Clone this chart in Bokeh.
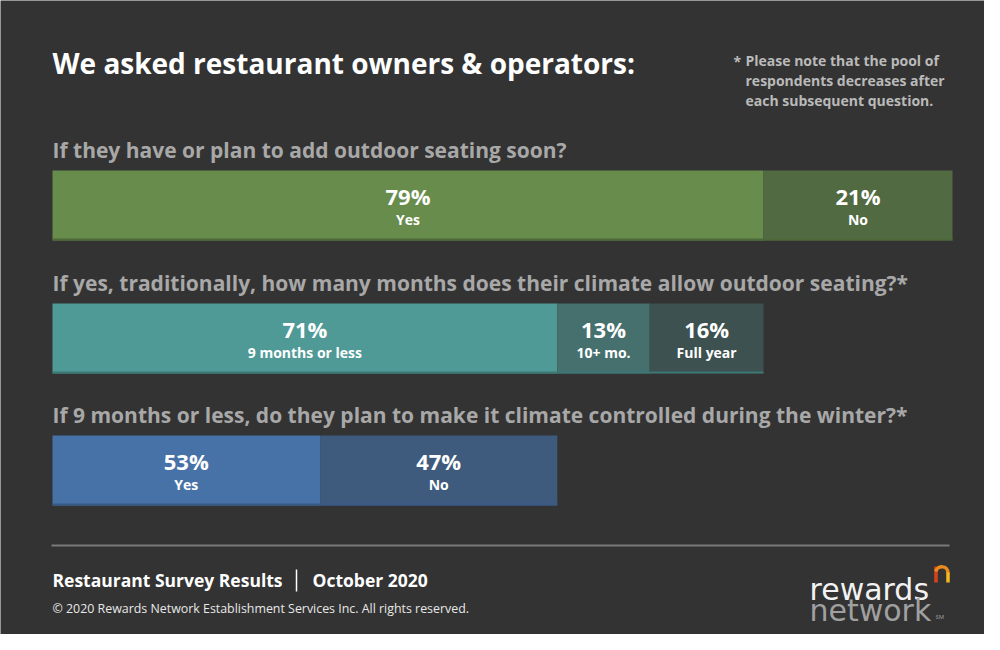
from bokeh.plotting import figure
from bokeh.models import Range1d, ColumnDataSource
from bokeh.embed import file_html
from bokeh.resources import INLINE
from bokeh.core.properties import value

# ---------------- data ----------------
title_text = "We asked restaurant owners & operators:"
note_lines = ["Please note that the pool of", "respondents decreases after", "each subsequent question."]
questions = [
    "If they have or plan to add outdoor seating soon?",
    "If yes, traditionally, how many months does their climate allow outdoor seating?*",
    "If 9 months or less, do they plan to make it climate controlled during the winter?*",
]
q1_labels = ["Yes", "No"]
q1_values = [79, 21]
q2_labels = ["9 months or less", "10+ mo.", "Full year"]
q2_values = [71, 13, 16]
q3_labels = ["Yes", "No"]
q3_values = [53, 47]
footer_left = "Restaurant Survey Results"
footer_right = "October 2020"
copyright_text = "\u00a9 2020 Rewards Network Establishment Services Inc. All rights reserved."

# ---------------- style / layout ----------------
BG = "#333333"
FONT = value("Open Sans")
row_colors = [["#678c4c", "#526a42"], ["#4f9a96", "#45706e", "#3c5150"], ["#4772a8", "#3e5a7c"]]
edge_colors = ["#4d693a", "#3d7773", "#385a85"]
row_top = [170, 303, 435]
BAR_H = 70
q_y = [149, 282, 414]
BAR_LEFT_PX = 52
PX_PER_PCT = 9.0
W, H = 984, 634


def X(px):
    return (px - BAR_LEFT_PX) / PX_PER_PCT


p = figure(width=W, height=H,
           x_range=Range1d(X(0), X(W)), y_range=Range1d(H, 0),
           output_backend="svg", toolbar_location=None, min_border=0,
           x_axis_type=None, y_axis_type=None,
           background_fill_color=BG, border_fill_color=BG, outline_line_color=None)
p.grid.visible = False


def txt(x, y, s, size, color, bold=True, align="left", baseline="middle", font=FONT):
    p.text(x=[x], y=[y], text=[s], text_font=font, text_font_size=value(size),
           text_font_style="bold" if bold else "normal", text_color=color,
           text_align=align, text_baseline=baseline)


# title & note
txt(X(52), 62, title_text, "28px", "#ffffff")
txt(X(733), 61, "*", "14px", "#bababa")
for i, line in enumerate(note_lines):
    txt(X(745), 60 + 20 * i, line, "14px", "#bababa")

# bars
rows = [(q1_labels, q1_values), (q2_labels, q2_values), (q3_labels, q3_values)]
span = 100.0
for i, (labels, vals) in enumerate(rows):
    lefts, rights = [], []
    cum = 0.0
    for v in vals:
        lefts.append(span * cum / 100.0)
        cum += v
        rights.append(span * cum / 100.0)
    top = row_top[i]
    src = ColumnDataSource(dict(left=lefts, right=rights,
                                top=[top] * len(vals), bottom=[top + BAR_H] * len(vals),
                                color=row_colors[i]))
    p.quad(left="left", right="right", top="top", bottom="bottom",
           fill_color="color", line_color=None, source=src)
    p.segment(x0=[lefts[0]], x1=[rights[-1]], y0=[top + BAR_H - 1], y1=[top + BAR_H - 1],
              line_color=edge_colors[i], line_width=2)
    centers = [(l + r) / 2 for l, r in zip(lefts, rights)]
    pct_src = ColumnDataSource(dict(x=centers, y=[top + 25] * len(vals),
                                    text=[f"{v}%" for v in vals]))
    p.text(x="x", y="y", text="text", source=pct_src, text_font=FONT,
           text_font_size=value("22px"), text_font_style="bold", text_color="#ffffff",
           text_align="center", text_baseline="middle")
    lab_src = ColumnDataSource(dict(x=centers, y=[top + 49] * len(vals), text=labels))
    p.text(x="x", y="y", text="text", source=lab_src, text_font=FONT,
           text_font_size=value("14px"), text_font_style="bold", text_color="#ffffff",
           text_align="center", text_baseline="middle")
    txt(X(52), q_y[i], questions[i], "21px", "#a8a8a8")
    span = span * vals[0] / 100.0

# separator
p.segment(x0=[X(51)], x1=[X(949)], y0=[545], y1=[545], line_color="#7a7a7a", line_width=2)

# footer
txt(X(52), 579, footer_left, "17.5px", "#ffffff")
p.segment(x0=[X(296)], x1=[X(296)], y0=[569], y1=[591], line_color="#ffffff", line_width=1.5)
txt(X(312), 579, footer_right, "17.5px", "#ffffff")
txt(X(52), 608, copyright_text, "12.4px", "#e8e8e8", bold=False)

# logo
txt(X(809), 589, "rewards", "30px", "#f2f2f2", bold=False, font=value("DejaVu Sans"))
txt(X(809), 610, "network", "30px", "#a0a0a0", bold=False, font=value("DejaVu Sans"))
txt(X(935), 616, "SM", "6px", "#a0a0a0", bold=False)
# small "n" mark
p.segment(x0=[X(935.5)], x1=[X(935.5)], y0=[566], y1=[582], line_color="#d8431b", line_width=3.5)
p.bezier(x0=[X(935.5)], y0=[571], cx0=[X(936.5)], cy0=[565], cx1=[X(947.5)], cy1=[564],
         x1=[X(947.5)], y1=[573], line_color="#ec8a1e", line_width=3.5)
p.segment(x0=[X(947.5)], x1=[X(947.5)], y0=[572], y1=[582], line_color="#f4b820", line_width=3.5)

open("out.html", "w").write(file_html(p, INLINE))
